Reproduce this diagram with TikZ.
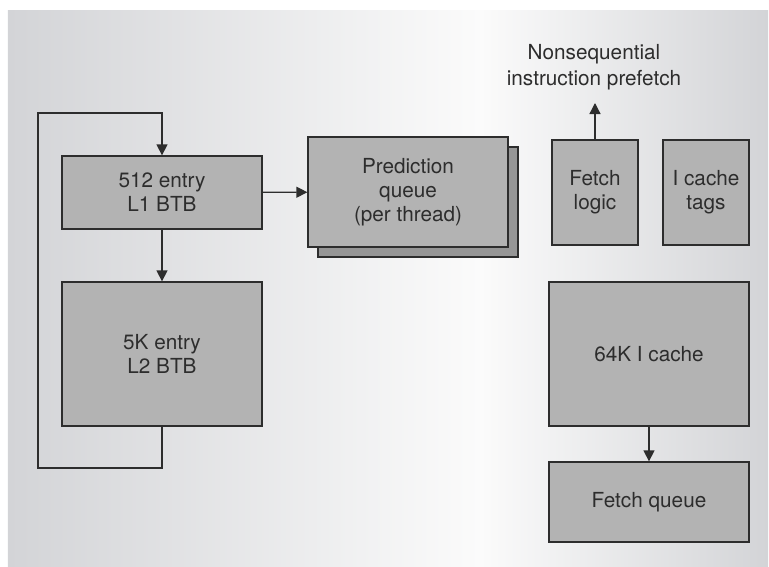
\documentclass[tikz,border=0pt]{standalone}
\usepackage{fontspec}
\setmainfont{TeX Gyre Heros}
\usetikzlibrary{arrows.meta}
\definecolor{panelgray}{RGB}{211,212,215}
\definecolor{panelwhite}{RGB}{251,251,251}
\definecolor{boxgray}{RGB}{179,179,179}
\definecolor{backgray}{RGB}{150,150,150}
\definecolor{inkgray}{RGB}{45,45,45}
\begin{document}
\begin{tikzpicture}[x=0.02cm, y=-0.02cm,
        blk/.style={draw=inkgray, fill=boxgray, line width=0.75pt, text=inkgray, align=center, inner sep=0pt, font=\fontsize{11.8}{13.8}\selectfont},
        arr/.style={draw=inkgray, line width=0.75pt, -{Triangle[length=0.22cm, width=0.22cm]}}]
        \useasboundingbox (0,0) rectangle (769,566);
        \shade[left color=panelgray, right color=panelwhite] (8,10) rectangle (480,566);
        \shade[left color=panelwhite, right color=panelgray] (479.5,10) rectangle (768,566);
        \node[blk, minimum width=4cm, minimum height=1.46cm] (l1) at (162,192.5) {512 entry\\L1 BTB};
        \node[blk, minimum width=4cm, minimum height=2.88cm] (l2) at (162,354) {5K entry\\L2 BTB};
        \node[blk, fill=backgray, minimum width=4cm, minimum height=2.2cm] (pqback) at (418,202) {};
        \node[blk, minimum width=4cm, minimum height=2.2cm] (pq) at (408,192) {Prediction\\queue\\(per thread)};
        \node[blk, minimum width=1.72cm, minimum height=2.1cm] (fl) at (595,192.5) {Fetch\\logic};
        \node[blk, minimum width=1.72cm, minimum height=2.1cm] (ict) at (706,192.5) {I cache\\tags};
        \node[blk, minimum width=4cm, minimum height=2.88cm] (ic) at (649,354) {64K I cache};
        \node[blk, minimum width=4cm, minimum height=1.6cm] (fq) at (649,502) {Fetch queue};
        \node[align=center, text=inkgray, font=\fontsize{11.8}{15}\selectfont] (pref) at (594,67) {Nonsequential\\instruction prefetch};
        \coordinate (preftip) at (595,103);
        \coordinate (loopbl) at (38,468);
        \coordinate (looptl) at (38,113);
        \draw[arr] (l1) -- (l2);
        \draw[arr] (l1) -- (pq);
        \draw[arr] (l2.south) |- (loopbl) -- (looptl) -| (l1.north);
        \draw[arr] (fl.north) -- (preftip);
        \draw[arr] (ic) -- (fq);
    \end{tikzpicture}
\end{document}
